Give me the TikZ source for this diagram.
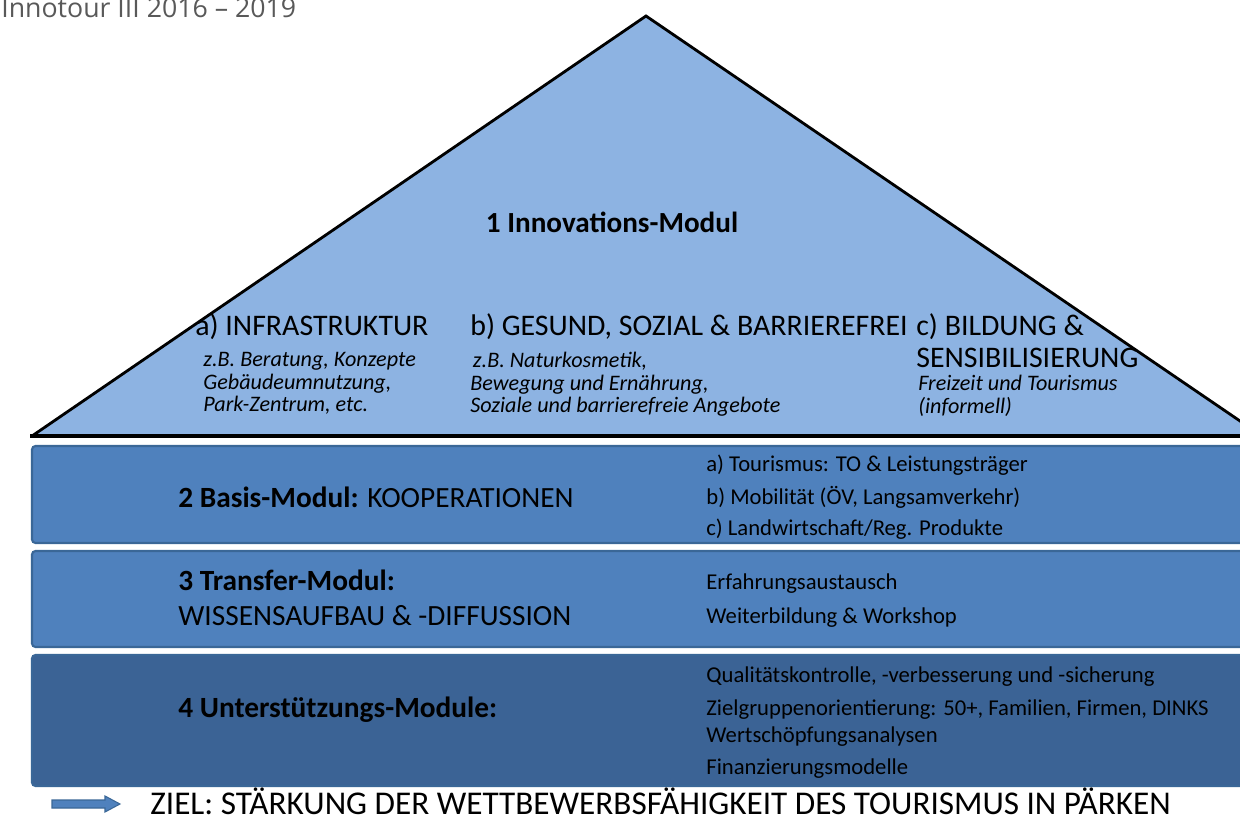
\documentclass[tikz,border=0pt]{standalone}
\usepackage{fontspec}
\setmainfont{Carlito}
\newfontfamily\titlefont{Open Sans}
\usepackage{xcolor}
\usepackage{tikz}
\usetikzlibrary{positioning}

\definecolor{pyramid}{HTML}{8DB3E2}
\definecolor{band}{HTML}{4F81BD}
\definecolor{banddark}{HTML}{3B6395}
\definecolor{bandedge}{HTML}{3A6797}

\begin{document}
\begin{tikzpicture}[
    x=0.02cm, y=-0.02cm,
    layer/.style={draw=bandedge, line width=1.2pt, rounded corners=2pt},
    head/.style={font=\fontsize{17}{18.6}\selectfont, anchor=west, inner sep=0pt, align=left},
    note/.style={font=\fontsize{12.6}{12.8}\selectfont\itshape, anchor=north west, inner sep=0pt, align=left},
    item/.style={font=\fontsize{12.9}{14}\selectfont, anchor=west, inner sep=0pt},
    modul/.style={font=\fontsize{16.7}{19.8}\selectfont, anchor=west, inner sep=0pt, align=left}
]
\useasboundingbox (0,0) rectangle (1240,820);
\clip (0,0) rectangle (1240,820);

% Title line
\node[font=\titlefont\fontsize{15.2}{17}\selectfont, text=black!65, anchor=base west, inner sep=0pt] (title) at (1,18) {Innotour III 2016 – 2019};

% Roof of the house: innovation module
\fill[pyramid] (646,16) -- (32,436) -- (1262,436) -- cycle;
\draw[line width=1.6pt, line join=miter] (32,436) -- (646,16) -- (1262,436);
\draw[line width=2.4pt] (30,436) -- (1262,436);

\node[font=\fontsize{16.6}{18}\selectfont\bfseries, inner sep=0pt] (inno) at (612,222) {1 Innovations-Modul};

\node[head] (infra) at (195,327) {a) INFRASTRUKTUR};
\node[note] (infraNote) at (203,352) {z.B. Beratung, Konzepte\\Gebäudeumnutzung,\\Park-Zentrum, etc.};

\node[head] (gesund) at (470,327) {b) GESUND, SOZIAL \& BARRIEREFREI};
\node[note] (gesundNote) at (470,352) {\hspace*{1.5pt}z.B. Naturkosmetik,\\Bewegung und Ernährung,\\Soziale und barrierefreie Angebote};

\node[head, anchor=north west] (bildung) at (916,313) {c) BILDUNG \&\\SENSIBILISIERUNG};
\node[note] (bildungNote) at (918,375) {Freizeit und Tourismus\\(informell)};

% Floors: basis, transfer and support modules
\draw[layer, fill=band] (32,446) rectangle (1260,543);
\draw[layer, fill=band] (32,551) rectangle (1260,647);
\draw[layer, fill=banddark] (32,655) rectangle (1260,786);

\node[modul] (basis) at (178,497) {\textbf{2 Basis-Modul:} KOOPERATIONEN};
\node[item] (basisA) at (706,465) {a) Tourismus: TO \& Leistungsträger};
\node[item] (basisB) at (706,497) {b) Mobilität (ÖV, Langsamverkehr)};
\node[item] (basisC) at (706,529) {c) Landwirtschaft/Reg. Produkte};

\node[modul, anchor=north west] (transfer) at (178,570) {\textbf{3 Transfer-Modul:}\\WISSENSAUFBAU \& -DIFFUSSION};
\node[item] (transferA) at (706,584) {Erfahrungsaustausch};
\node[item] (transferB) at (706,618) {Weiterbildung \& Workshop};

\node[modul] (support) at (178,710) {\textbf{4 Unterstützungs-Module:}};
\node[item] (supportA) at (706,677) {Qualitätskontrolle, -verbesserung und -sicherung};
\node[item] (supportB) at (706,710) {Zielgruppenorientierung: 50+, Familien, Firmen, DINKS};
\node[item] (supportC) at (706,737) {Wertschöpfungsanalysen};
\node[item] (supportD) at (706,769) {Finanzierungsmodelle};

% Goal line with block arrow
\filldraw[fill=band, draw=bandedge, line width=0.6pt] (52,800) -- (105,800) -- (105,796) -- (120,804) -- (105,812) -- (105,808) -- (52,808) -- cycle;
\node[font=\fontsize{18.9}{22}\selectfont, anchor=west, inner sep=0pt] (goal) at (150,801) {ZIEL: STÄRKUNG DER WETTBEWERBSFÄHIGKEIT DES TOURISMUS IN PÄRKEN};
\end{tikzpicture}
\end{document}
